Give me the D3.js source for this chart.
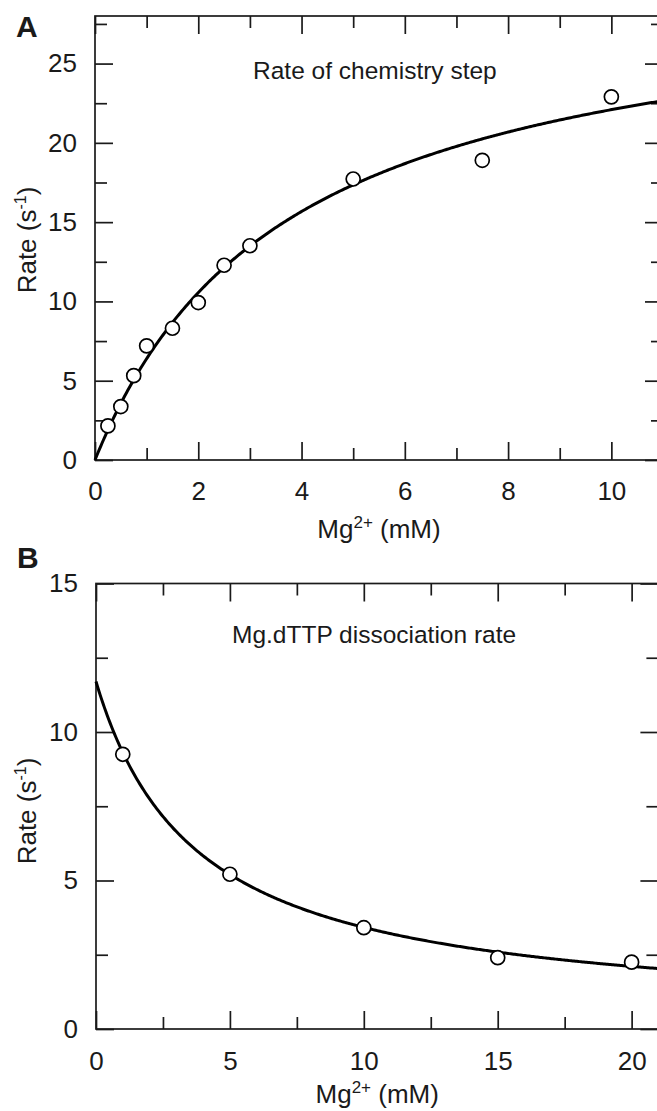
<!DOCTYPE html>
<html>
<head>
<meta charset="utf-8">
<script src="https://cdn.jsdelivr.net/npm/d3@7"></script>
<style>
  html, body { margin: 0; padding: 0; background: #fff; }
  svg { display: block; }
  text { font-family: "Liberation Sans", Arial, Helvetica, sans-serif; fill: #1a1a1a; }
</style>
</head>
<body>
<svg id="chart" width="657" height="1111"></svg>
<script>
// ---------- Panel A data ----------
const mgA = [0.25, 0.5, 0.75, 1, 1.5, 2, 2.5, 3, 5, 7.5, 10];
const rateA = [2.15, 3.37, 5.32, 7.2, 8.31, 9.93, 12.28, 13.51, 17.72, 18.9, 22.9];
const fitVmaxA = 30.4;   // hyperbolic fit parameters
const fitKdA = 3.76;
const xTicksA = [0, 2, 4, 6, 8, 10];
const xMinorA = [1, 3, 5, 7, 9];
const yTicksA = [0, 5, 10, 15, 20, 25];
const yMinorA = [2.5, 7.5, 12.5, 17.5, 22.5, 27.5];

// ---------- Panel B data ----------
const mgB = [1, 5, 10, 15, 20];
const rateB = [9.25, 5.21, 3.41, 2.40, 2.25];
const fitY0B = 11.7;     // hyperbolic decay fit parameters
const fitYminB = 0.3;
const fitKB = 3.77;
const xTicksB = [0, 5, 10, 15, 20];
const xMinorB = [2.5, 7.5, 12.5, 17.5];
const yTicksB = [0, 5, 10, 15];
const yMinorB = [2.5, 7.5, 12.5];

const svg = d3.select("#chart");
svg.append("rect").attr("width", 657).attr("height", 1111).attr("fill", "#fff");

const INK = "#1a1a1a";

function drawPanel(o) {
  const x = d3.scaleLinear().domain(o.xDomain).range([o.left, o.right]);
  const y = d3.scaleLinear().domain(o.yDomain).range([o.bottom, o.top]);
  const g = svg.append("g");

  function styleAxis(sel) {
    sel.select(".domain").remove();
    sel.selectAll("line").attr("stroke", INK).attr("stroke-width", 1.7);
    sel.selectAll("text").attr("font-size", 26).attr("fill", INK)
      .attr("font-family", "Liberation Sans, Arial, sans-serif");
  }

  // bottom major with labels
  g.append("g").attr("transform", `translate(0,${o.bottom})`)
    .call(d3.axisBottom(x).tickValues(o.xTicks).tickFormat(d3.format("d")).tickSize(-18).tickPadding(o.xPad))
    .call(styleAxis);
  g.append("g").attr("transform", `translate(0,${o.bottom})`)
    .call(d3.axisBottom(x).tickValues(o.xMinor).tickFormat("").tickSize(-12))
    .call(styleAxis);
  // top
  g.append("g").attr("transform", `translate(0,${o.top})`)
    .call(d3.axisTop(x).tickValues(o.xTicks).tickFormat("").tickSize(-18))
    .call(styleAxis);
  g.append("g").attr("transform", `translate(0,${o.top})`)
    .call(d3.axisTop(x).tickValues(o.xMinor).tickFormat("").tickSize(-12))
    .call(styleAxis);
  // left
  g.append("g").attr("transform", `translate(${o.left},0)`)
    .call(d3.axisLeft(y).tickValues(o.yTicks).tickFormat(d3.format("d")).tickSize(-18).tickPadding(18))
    .call(styleAxis);
  g.append("g").attr("transform", `translate(${o.left},0)`)
    .call(d3.axisLeft(y).tickValues(o.yMinor).tickFormat("").tickSize(-12))
    .call(styleAxis);
  // right
  g.append("g").attr("transform", `translate(${o.right},0)`)
    .call(d3.axisRight(y).tickValues(o.yTicks).tickFormat("").tickSize(-18))
    .call(styleAxis);
  g.append("g").attr("transform", `translate(${o.right},0)`)
    .call(d3.axisRight(y).tickValues(o.yMinor).tickFormat("").tickSize(-12))
    .call(styleAxis);

  // frame
  g.append("rect")
    .attr("x", o.left).attr("y", o.top)
    .attr("width", o.right - o.left).attr("height", o.bottom - o.top)
    .attr("fill", "none").attr("stroke", INK).attr("stroke-width", 1.7);

  // fit curve
  const xs = d3.range(0, 401).map(i => o.xDomain[0] + (o.xDomain[1] - o.xDomain[0]) * i / 400);
  const line = d3.line().x(d => x(d)).y(d => y(o.fit(d)));
  g.append("path").datum(xs).attr("d", line)
    .attr("fill", "none").attr("stroke", "#000").attr("stroke-width", 3);

  // points
  g.selectAll("circle.pt").data(o.xs.map((v, i) => [v, o.ys[i]])).enter()
    .append("circle").attr("class", "pt")
    .attr("cx", d => x(d[0])).attr("cy", d => y(d[1])).attr("r", 7)
    .attr("fill", "#fff").attr("stroke", "#000").attr("stroke-width", 1.7);

  // annotation
  g.append("text").attr("x", o.noteX).attr("y", o.noteY)
    .attr("font-size", 24.5).text(o.note);

  // panel letter
  g.append("text").attr("x", o.letterX).attr("y", o.letterY)
    .attr("font-size", 30).attr("font-weight", "bold").attr("fill", "#000").text(o.letter);

  // x axis title
  const xt = g.append("text").attr("x", (o.left + o.right) / 2).attr("y", o.xTitleY)
    .attr("text-anchor", "middle").attr("font-size", 26);
  xt.append("tspan").text("Mg");
  xt.append("tspan").attr("font-size", 17).attr("dy", -10).text("2+");
  xt.append("tspan").attr("dy", 10).text(" (mM)");

  // y axis title
  const yt = g.append("text")
    .attr("transform", `translate(36,${o.yTitleC}) rotate(-90)`)
    .attr("text-anchor", "middle").attr("font-size", 26);
  yt.append("tspan").text("Rate (s");
  yt.append("tspan").attr("font-size", 16).attr("dy", -10).text("-1");
  yt.append("tspan").attr("dy", 10).text(")");
}

drawPanel({
  xDomain: [0, 11], yDomain: [0, 28],
  left: 95, right: 663, top: 16, bottom: 460,
  xTicks: xTicksA, xMinor: xMinorA, yTicks: yTicksA, yMinor: yMinorA,
  xPad: 22,
  xs: mgA, ys: rateA,
  fit: m => fitVmaxA * m / (fitKdA + m),
  note: "Rate of chemistry step", noteX: 253, noteY: 79,
  letter: "A", letterX: 16, letterY: 37,
  xTitleY: 538, yTitleC: 240
});

drawPanel({
  xDomain: [0, 21], yDomain: [0, 15],
  left: 96, right: 658.4, top: 583.5, bottom: 1029,
  xTicks: xTicksB, xMinor: xMinorB, yTicks: yTicksB, yMinor: yMinorB,
  xPad: 23,
  xs: mgB, ys: rateB,
  fit: m => fitYminB + (fitY0B - fitYminB) * fitKB / (fitKB + m),
  note: "Mg.dTTP dissociation rate", noteX: 232, noteY: 643,
  letter: "B", letterX: 17, letterY: 568,
  xTitleY: 1103, yTitleC: 811
});
</script>
</body>
</html>
